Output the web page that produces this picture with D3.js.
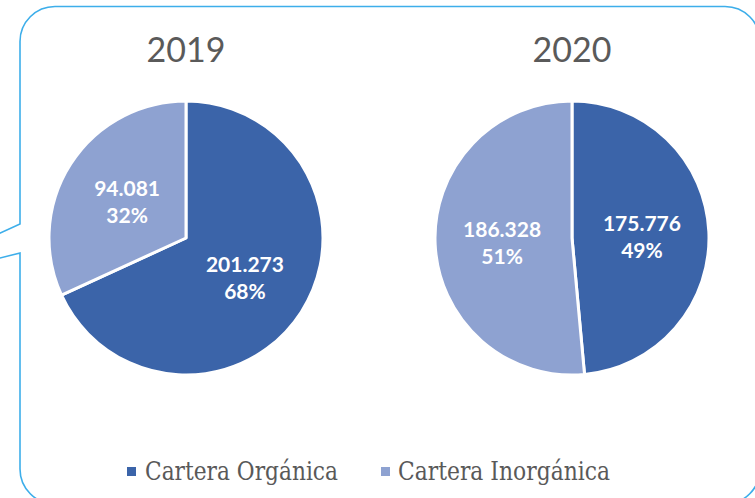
<!DOCTYPE html>
<html><head><meta charset="utf-8">
<script src="https://cdn.jsdelivr.net/npm/d3@7"></script>
<style>html,body{margin:0;padding:0;background:#fff;overflow:hidden}</style>
</head><body>
<svg id="c" width="755" height="498"></svg>
<script>
const categories = ["Cartera Orgánica", "Cartera Inorgánica"];
const years = ["2019", "2020"];
const values2019 = [201.273, 94.081];
const values2020 = [175.776, 186.328];
const labels2019 = ["201.273", "94.081"];
const labels2020 = ["175.776", "186.328"];
const colors = ["#3B64A9", "#8EA2D1"];

const svg = d3.select("#c");

// callout frame
const fr = d3.path();
const L = 20, T = 6.5, R = 760, B = 504, rad = 35;
fr.moveTo(L + rad, T);
fr.lineTo(R - rad, T);
fr.arcTo(R, T, R, T + rad, rad);
fr.lineTo(R, B - rad);
fr.arcTo(R, B, R - rad, B, rad);
fr.lineTo(L + rad, B);
fr.arcTo(L, B, L, B - rad, rad);
fr.lineTo(L, 253);
fr.lineTo(-1, 258.3);
fr.moveTo(-1, 233.5);
fr.lineTo(L, 224);
fr.lineTo(L, T + rad);
fr.arcTo(L, T, L + rad, T, rad);
svg.append("path").attr("d", fr.toString())
  .attr("fill", "none").attr("stroke", "#3DAEEA").attr("stroke-width", 1.6);

const pie = d3.pie().sort(null).value(d => d);
const radius = 137;
const arc = d3.arc().innerRadius(0).outerRadius(radius);
const labelArc = d3.arc().innerRadius(70).outerRadius(70);

const groups = [
  {year: years[0], vals: values2019, labs: labels2019, cx: 186, cy: 238},
  {year: years[1], vals: values2020, labs: labels2020, cx: 572, cy: 238}
];

groups.forEach(gd => {
  const g = svg.append("g").attr("transform", `translate(${gd.cx},${gd.cy})`);
  const arcs = pie(gd.vals);
  const total = d3.sum(gd.vals);
  g.selectAll("path").data(arcs).enter().append("path")
    .attr("d", arc).attr("fill", (d, i) => colors[i])
    .attr("stroke", "#fff").attr("stroke-width", 3).attr("stroke-linejoin", "round");
  arcs.forEach((a, i) => {
    const [x, y] = labelArc.centroid(a);
    const t = g.append("text").attr("x", x).attr("y", y)
      .attr("text-anchor", "middle").attr("fill", "#fff")
      .style("font-family", "Lato, sans-serif").style("font-weight", "bold").style("font-size", "21px");
    t.append("tspan").attr("x", x).attr("dy", "-0.2em").text(gd.labs[i]);
    t.append("tspan").attr("x", x).attr("dy", "1.3em").text(Math.round(gd.vals[i] / total * 100) + "%");
  });
  svg.append("text").attr("x", gd.cx).attr("y", 62).attr("text-anchor", "middle")
    .attr("fill", "#5A5A5A").style("font-family", "Lato, sans-serif").style("font-size", "34px")
    .text(gd.year);
});

// legend
const leg = [{x: 127, tx: 145, w: 193}, {x: 381, tx: 398, w: 212}];
categories.forEach((c, i) => {
  svg.append("rect").attr("x", leg[i].x).attr("y", 467).attr("width", 9).attr("height", 9).attr("fill", colors[i]);
  svg.append("text").attr("x", leg[i].tx).attr("y", 480)
    .attr("fill", "#595959").style("font-family", "'DejaVu Serif', serif").style("font-size", "26px")
    .attr("textLength", leg[i].w).attr("lengthAdjust", "spacingAndGlyphs")
    .text(c);
});
</script>
</body></html>
